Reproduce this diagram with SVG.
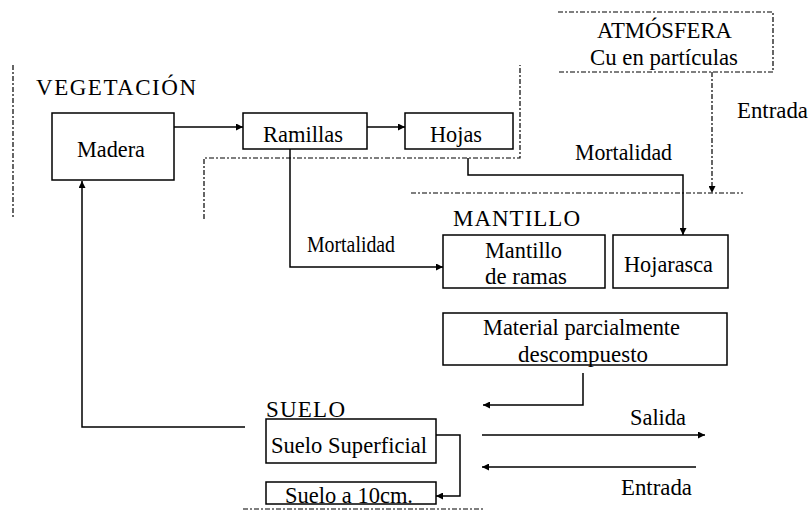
<svg xmlns="http://www.w3.org/2000/svg" width="809" height="512" viewBox="0 0 809 512">
<style>
  text { font-family: 'Liberation Serif', 'Times New Roman', serif; font-size: 23px; fill: #000; }
  .box { fill: #fff; stroke: #000; stroke-width: 1.5; }
  .conn { fill: none; stroke: #000; stroke-width: 1.5; }
  .dash { fill: none; stroke: #000; stroke-width: 1.2; stroke-dasharray: 5 2 2 2; }
</style>
<defs>
  <marker id="ah" viewBox="0 0 10 10" refX="10" refY="5" markerWidth="7" markerHeight="7" markerUnits="userSpaceOnUse" orient="auto">
    <path d="M0,0 L10,5 L0,10 z" fill="#000"/>
  </marker>
</defs>
<rect width="809" height="512" fill="#fff"/>

<g id="boundaries">
  <path class="dash" d="M13,65 V217"/>
  <path class="dash" d="M204,219 V158 H520 V65"/>
  <path class="dash" d="M558,12 H773 V72 H558"/>
  <path class="dash" d="M411,193 H743"/>
  <path class="dash" d="M243,509 H483"/>
</g>

<g id="labels">
  <text x="36" y="95" textLength="160" lengthAdjust="spacing">VEGETACIÓN</text>
  <text x="453" y="226" textLength="127" lengthAdjust="spacing">MANTILLO</text>
  <text x="266" y="417" textLength="79" lengthAdjust="spacing">SUELO</text>
  <text x="737" y="118" textLength="71" lengthAdjust="spacingAndGlyphs">Entrada</text>
  <text x="575" y="160" textLength="97" lengthAdjust="spacingAndGlyphs">Mortalidad</text>
  <text x="307" y="252" textLength="88" lengthAdjust="spacingAndGlyphs">Mortalidad</text>
  <text x="630" y="425" textLength="56" lengthAdjust="spacingAndGlyphs">Salida</text>
  <text x="621" y="495" textLength="71" lengthAdjust="spacingAndGlyphs">Entrada</text>
</g>

<g id="atmosfera">
  <text x="597" y="38" textLength="135" lengthAdjust="spacingAndGlyphs">ATMÓSFERA</text>
  <text x="590" y="65" textLength="148" lengthAdjust="spacingAndGlyphs">Cu en partículas</text>
</g>

<g id="madera">
  <rect class="box" x="52" y="113" width="122" height="67"/>
  <text x="77" y="157" textLength="68" lengthAdjust="spacingAndGlyphs">Madera</text>
</g>
<g id="ramillas">
  <rect class="box" x="243" y="113" width="124" height="36"/>
  <text x="263" y="142" textLength="80" lengthAdjust="spacingAndGlyphs">Ramillas</text>
</g>
<g id="hojas">
  <rect class="box" x="405" y="113" width="108" height="36"/>
  <text x="430" y="142" textLength="52" lengthAdjust="spacingAndGlyphs">Hojas</text>
</g>
<g id="mantillo-ramas">
  <rect class="box" x="443" y="235" width="162" height="53"/>
  <text x="485" y="258" textLength="77" lengthAdjust="spacingAndGlyphs">Mantillo</text>
  <text x="485" y="284" textLength="82" lengthAdjust="spacingAndGlyphs">de ramas</text>
</g>
<g id="hojarasca">
  <rect class="box" x="613" y="235" width="115" height="53"/>
  <text x="624" y="272" textLength="89" lengthAdjust="spacingAndGlyphs">Hojarasca</text>
</g>
<g id="material">
  <rect class="box" x="443" y="313" width="284" height="52"/>
  <text x="483" y="335" textLength="197" lengthAdjust="spacingAndGlyphs">Material parcialmente</text>
  <text x="518" y="362" textLength="130" lengthAdjust="spacingAndGlyphs">descompuesto</text>
</g>
<g id="suelo-superficial">
  <rect class="box" x="266" y="419" width="170" height="44"/>
  <text x="271" y="453" textLength="156" lengthAdjust="spacingAndGlyphs">Suelo Superficial</text>
</g>
<g id="suelo-10cm">
  <rect class="box" x="266" y="482" width="170" height="22"/>
  <text x="285" y="503" textLength="128" lengthAdjust="spacingAndGlyphs">Suelo a 10cm.</text>
</g>

<g id="connectors">
  <path class="conn" d="M174,127 H243" marker-end="url(#ah)"/>
  <path class="conn" d="M367,127 H405" marker-end="url(#ah)"/>
  <path class="conn" d="M290,149 V267 H443" marker-end="url(#ah)"/>
  <path class="conn" d="M468,158 V175 H683 V235" marker-end="url(#ah)"/>
  <path class="dash" d="M712,72 V193" marker-end="url(#ah)"/>
  <path class="conn" d="M583,373 V405 H483" marker-end="url(#ah)"/>
  <path class="conn" d="M245,427 H82 V181" marker-end="url(#ah)"/>
  <path class="conn" d="M436,435 H460 V496 H436" marker-end="url(#ah)"/>
  <path class="conn" d="M482,435 H705" marker-end="url(#ah)"/>
  <path class="conn" d="M696,467 H482" marker-end="url(#ah)"/>
</g>
</svg>
